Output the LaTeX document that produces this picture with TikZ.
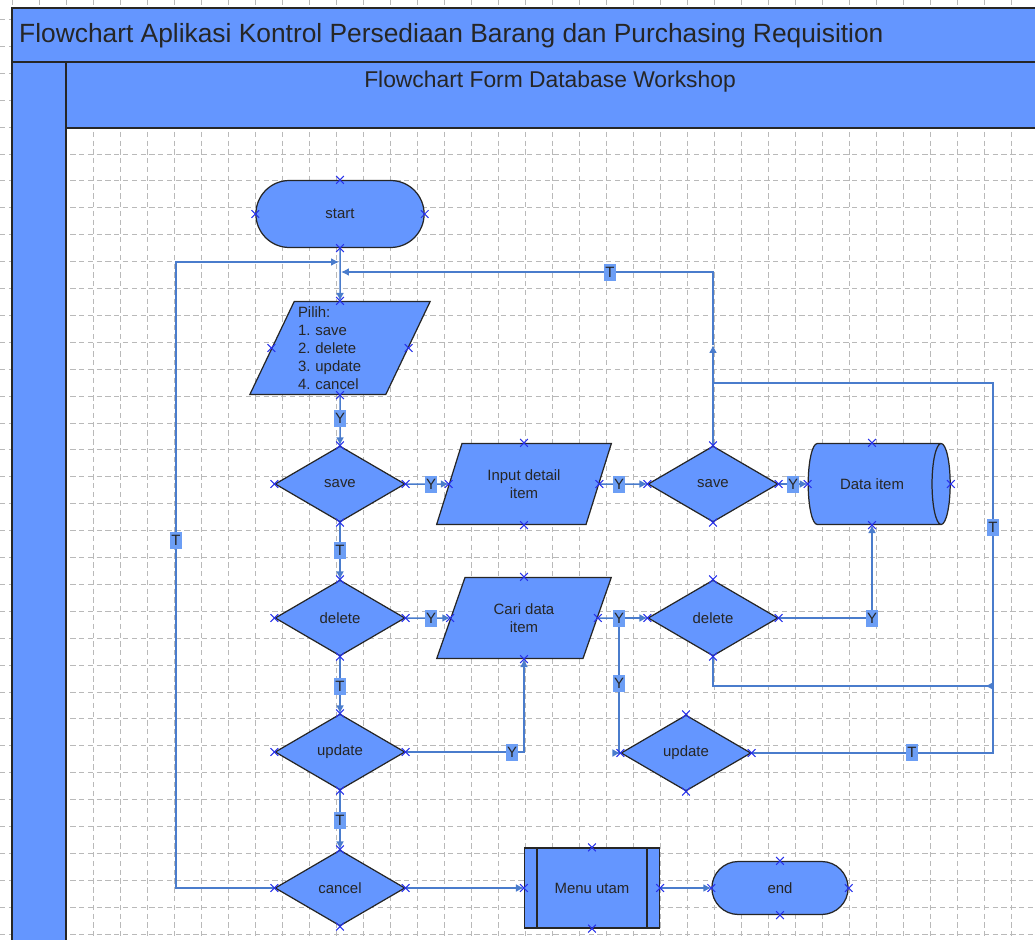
\documentclass[tikz,border=0pt]{standalone}
\usepackage{fontspec}
\setmainfont{Liberation Sans}
\usetikzlibrary{shapes.geometric, shapes.misc, arrows.meta}
\definecolor{vblue}{RGB}{100,150,255}
\definecolor{connblue}{RGB}{74,124,204}
\definecolor{lblblue}{RGB}{108,158,245}
\definecolor{markblue}{RGB}{40,50,235}
\newcommand{\flowfont}{\fontsize{8.5}{10.3}\selectfont\frenchspacing}
\tikzstyle{shapebase} = [draw=black!85, line width=0.7pt, fill=vblue, text=black!85, font=\flowfont]
\tikzstyle{terminal} = [shapebase, rounded rectangle, minimum width=3.6cm, minimum height=1.34cm]
\tikzstyle{io} = [shapebase, trapezium, trapezium left angle=67, trapezium right angle=113, trapezium stretches=true, minimum width=3.5cm, minimum height=1.62cm, align=center]
\tikzstyle{decision} = [shapebase, diamond, minimum width=2.6cm, minimum height=1.52cm, inner sep=0pt]
\tikzstyle{storage} = [shapebase, cylinder, aspect=0.8, minimum width=1.62cm, minimum height=2.84cm]
\tikzstyle{subproc} = [shapebase, rectangle, minimum width=2.7cm, minimum height=1.6cm]
\tikzstyle{frame} = [draw=black!85, line width=1.2pt, fill=vblue]
\tikzstyle{gridline} = [gray!55, line width=0.45pt, dash pattern=on 3pt off 2pt]
\tikzstyle{line} = [connblue, line width=0.85pt]
\tikzstyle{arrow} = [line, ->]
\tikzstyle{backarrow} = [line, -{Latex[length=4.5pt,width=4.5pt,reversed]}]
\tikzstyle{yn} = [rectangle, fill=lblblue, inner sep=0.8pt, minimum width=0.22cm, minimum height=0.34cm, font=\flowfont, text=black!85]
\tikzset{cpoint/.pic={\draw[markblue, line width=0.6pt] (-2.2pt,-2.2pt) -- (2.2pt,2.2pt) (-2.2pt,2.2pt) -- (2.2pt,-2.2pt);}}

\begin{document}
\begin{tikzpicture}[x=0.02cm, y=-0.02cm, >={Latex[length=4.5pt,width=4.5pt]}]
    \useasboundingbox (0,0) rectangle (1035,940);
    \clip (0,0) rectangle (1035,940);

    % background grid
    \foreach \gx in {12,39,...,1035} \draw [gridline] (\gx,0) -- (\gx,940);
    \foreach \gy in {19.4,46.3,...,940} \draw [gridline] (0,\gy) -- (1035,\gy);

    % swimlane header
    \draw [frame] (12,8) rectangle (1045,62);
    \draw [frame] (12,62) rectangle (66,950);
    \draw [frame] (66,62) rectangle (1045,128);
    \node (title) [anchor=west, text=black!85, font=\fontsize{15}{18}\selectfont] at (13,36) {Flowchart Aplikasi Kontrol Persediaan Barang dan Purchasing Requisition};
    \node (lane) [text=black!85, font=\fontsize{13}{15}\selectfont] at (550,82) {Flowchart Form Database Workshop};

    \node (start) [terminal] at (340,214) {start};
    \node (pilih) [io, text width=1.68cm, align=left, inner sep=0pt, trapezium left angle=64, trapezium right angle=116, minimum width=3.62cm, minimum height=1.86cm] at (340,348) {Pilih:\\1. save\\2. delete\\3. update\\4. cancel};

    \node (save-a) [decision] at (340,484) {save};
    \node (input-a) [io] at (524,484) {Input detail\\item};
    \node (save-b) [decision] at (713,484) {save};
    \node (data-item) [storage] at (872,484) {Data item};

    \node (delete-a) [decision] at (340,618) {delete};
    \node (cari-a) [io] at (524,618) {Cari data\\item};
    \node (delete-b) [decision] at (713,618) {delete};

    \node (update-a) [decision] at (340,752) {update};
    \node (update-b) [decision] at (686,753) {update};

    \node (cancel-a) [decision] at (340,888) {cancel};
    \node (menu-a) [subproc] at (592,888) {Menu utam};
    \node (end-a) [terminal, minimum width=2.96cm, minimum height=1.06cm] at (780,888) {end};

    \draw [shapebase] ([xshift=0.26cm]menu-a.north west) -- ([xshift=0.26cm]menu-a.south west);
    \draw [shapebase] ([xshift=-0.26cm]menu-a.north east) -- ([xshift=-0.26cm]menu-a.south east);

    % bends of the connectors
    \coordinate (lp-end) at (339,262);
    \coordinate (lp-corner) at (176,262);
    \coordinate (rp-mid) at (713,345);
    \coordinate (rp-corner) at (713,272);
    \coordinate (rp-end) at (341,272);
    \coordinate (rr-top) at (993,383);
    \coordinate (rr-join) at (713,383);
    \coordinate (rr-mid) at (993,686);
    \coordinate (fork) at (619,618);

    \draw [arrow] (start) -- (pilih);
    \draw [arrow] (cancel-a.west) -| (lp-corner) -- (lp-end);
    \draw [arrow] (save-b.north) -- (rp-mid);
    \draw [arrow] (rp-mid) -- (rp-corner) -- (rp-end);

    \draw [arrow] (pilih) -- (save-a);
    \draw [arrow] (save-a) -- (input-a);
    \draw [arrow] (input-a) -- (save-b);
    \draw [arrow] (save-b) -- (data-item);

    \draw [arrow] (save-a) -- (delete-a);
    \draw [arrow] (delete-a) -- (cari-a);
    \draw [line] (cari-a.east) -- (fork);
    \draw [arrow] (fork) -- (delete-b.west);
    \draw [arrow] (fork) |- (update-b.west);
    \draw [arrow] (delete-b.east) -| (data-item.south);

    \draw [arrow] (delete-a) -- (update-a);
    \draw [arrow] (update-a.east) -| (cari-a.south);
    \draw [line] (update-b.east) -| (rr-top) -- (rr-join);
    \draw [backarrow] (delete-b.south) |- (rr-mid);

    \draw [arrow] (update-a) -- (cancel-a);
    \draw [arrow] (cancel-a) -- (menu-a);
    \draw [arrow] (menu-a) -- (end-a);

    % Y / T labels
    \node (y-pilih) [yn] at (340,418) {Y};
    \node (y-save-a) [yn] at (431,484) {Y};
    \node (y-input) [yn] at (619,484) {Y};
    \node (y-save-b) [yn] at (793,484) {Y};
    \node (y-delete-a) [yn] at (431,618) {Y};
    \node (y-cari) [yn] at (619,618) {Y};
    \node (y-delete-b) [yn] at (872,618) {Y};
    \node (y-fork) [yn] at (619,683) {Y};
    \node (y-update-a) [yn] at (512,752) {Y};

    \node (t-save-a) [yn] at (340,550) {T};
    \node (t-delete-a) [yn] at (340,686) {T};
    \node (t-update-a) [yn] at (340,820) {T};
    \node (t-cancel) [yn] at (176,540) {T};
    \node (t-save-b) [yn] at (610,272) {T};
    \node (t-right) [yn] at (993,527) {T};
    \node (t-update-b) [yn] at (912,752) {T};

    % connection points
    \foreach \nd in {start,pilih,save-a,input-a,save-b,data-item,delete-a,cari-a,delete-b,update-a,update-b,cancel-a,menu-a,end-a}
        \foreach \an in {north,south,east,west}
            \pic at (\nd.\an) {cpoint};
\end{tikzpicture}
\end{document}
